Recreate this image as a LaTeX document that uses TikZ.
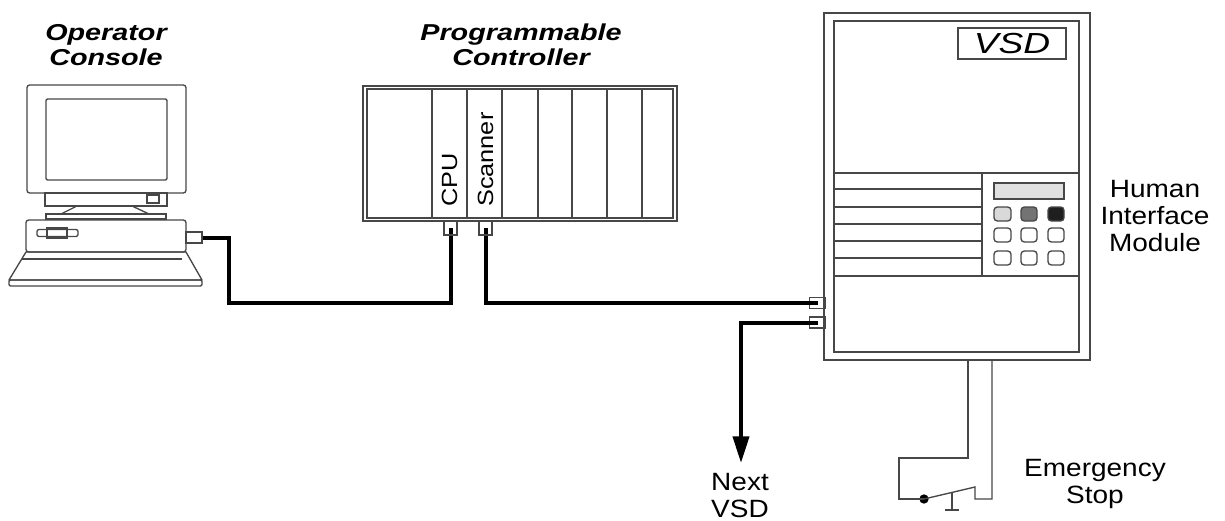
\documentclass[tikz,border=0pt]{standalone}
\usepackage{fontspec}
\setmainfont{Liberation Sans}
\newfontfamily\titlefont[FakeStretch=1.25]{Liberation Sans}
\newfontfamily\labelfont[FakeStretch=1.12]{Liberation Sans}
\newfontfamily\badgefont[FakeStretch=1.28]{Liberation Sans}
\newfontfamily\slotfont[FakeStretch=1.15]{Liberation Sans}
\usetikzlibrary{arrows.meta}

\tikzset{
  outline/.style={draw=black!72, line width=1pt},
  cable/.style={line width=3pt, black, line join=miter},
  hport/.style={draw=black!72, line width=0.8pt, inner sep=0pt, minimum width=12pt, minimum height=8.25pt},
  vport/.style={draw=black!72, line width=0.8pt, inner sep=0pt, minimum width=9.75pt, minimum height=10.5pt},
  title/.style={font=\titlefont\bfseries\itshape\fontsize{17.25pt}{18.75pt}\selectfont, align=center, inner sep=0pt, anchor=base},
  caption/.style={font=\labelfont\fontsize{18.75pt}{20.25pt}\selectfont, align=center, inner sep=0pt, anchor=base},
  slotlabel/.style={font=\slotfont\fontsize{16.5pt}{18pt}\selectfont, rotate=90, anchor=west, inner sep=0pt},
  key/.style={outline, rounded corners=2.5pt},
}

\begin{document}
\begin{tikzpicture}[x=0.75pt, y=-0.75pt]
\useasboundingbox (0,0) rectangle (1225,521);

% ---------- operator console ----------
% (base anchor of a multi-line node sits on its last line)
\node[title] (optitle) at (106,65) {Operator\\Console};
% monitor
\draw[outline, rounded corners=2pt] (27,85) rectangle (186,193);
\draw[outline, rounded corners=1pt] (46,99) rectangle (167,180);
\draw[outline] (45,193) rectangle (167,206);
\draw[outline] (147,195) rectangle (159,203);
\draw[outline] (77,206) -- (61,214) (132,206) -- (149,214);
\draw[outline] (46,214) rectangle (166,219);
% system unit
\draw[outline, rounded corners=2pt] (26,220) rectangle (186,252);
\draw[outline, rounded corners=1.5pt] (37,229.5) rectangle (78,236.5);
\draw[outline] (47,228) rectangle (67,238);
% keyboard
\draw[outline, line join=round] (26,252) -- (186,252) -- (202,280) -- (9,280) -- cycle;
\draw[outline, rounded corners=1pt] (9,280) rectangle (202,286);
\draw[outline] (22,259) -- (182,259);
\node[hport] (pcport) at (194,237.5) {};

% ---------- programmable controller ----------
\node[title] (plctitle) at (521,65) {Programmable\\Controller};
\draw[outline] (363,86) rectangle (677,221);
\draw[outline] (367,89) rectangle (673,218);
\foreach \x in {432,467,502,538,572,607,642}
  \draw[outline] (\x,89) -- (\x,218);
\node[slotlabel] (cpulbl) at (449.5,207) {CPU};
\node[slotlabel] (scanlbl) at (485.5,207) {Scanner};
\coordinate (cpuport) at (450.5,228);
\coordinate (scanport) at (485.5,228);

% ---------- drive ----------
\draw[outline] (824,13) rectangle (1090,360);
\draw[outline] (834,21) rectangle (1079,352);
\node[draw=black!72, line width=1pt, minimum width=81pt, minimum height=23.25pt, inner sep=0pt,
      font=\badgefont\itshape\fontsize{21.75pt}{22pt}\selectfont] (vsdbadge) at (1012,43.5) {VSD};
% human interface module
\draw[outline] (834,173) -- (1079,173) (834,276) -- (1079,276) (982,173) -- (982,276);
\foreach \y in {189,207,224,241,258}
  \draw[outline] (834,\y) -- (982,\y);
\draw[outline, fill=black!12] (994,183) rectangle (1064,199);
\draw[key, fill=black!15] (994,207) rectangle (1011,221);
\draw[key, fill=black!55] (1021,207) rectangle (1037,221);
\draw[key, fill=black!88] (1048,207) rectangle (1064,221);
\foreach \y in {228,251}
  \foreach \x/\w in {994/17,1021/16,1048/16}
    \draw[key] (\x,\y) rectangle ++(\w,14);
\node[caption] (himlbl) at (1155,251) {Human\\Interface\\Module};
\node[hport] (vsdin) at (817.5,303) {};
\node[hport] (vsdout) at (817.5,322.5) {};

% ---------- network cabling ----------
\draw[cable] (pcport.east) -| (229,303) -| (cpuport);
\draw[cable] (scanport) |- (vsdin.center);
\coordinate (nexttip) at (741,463);
\draw[cable, -{Triangle[length=20pt,width=12pt]}] (vsdout.center) -| (nexttip);
\node[vport] (cpuportbox) at (cpuport) {};
\node[vport] (scanportbox) at (scanport) {};
\node[caption] (nextlbl) at (740,517) {Next\\VSD};

% ---------- emergency stop ----------
\node[circle, fill=black, inner sep=0pt, minimum size=7pt] (pivot) at (924,499) {};
\draw[outline] (968,360) -- (968,458) -- (899,458) -- (899,499) -- (pivot.center);
\draw[outline] (pivot.center) -- (975,487) -- (975,499) -- (992,499) -- (992,360);
\draw[outline] (952,492) -- (952,510) (945,510) -- (959,510);
\node[caption] (estoplbl) at (1095,503) {Emergency\\Stop};
\end{tikzpicture}
\end{document}
